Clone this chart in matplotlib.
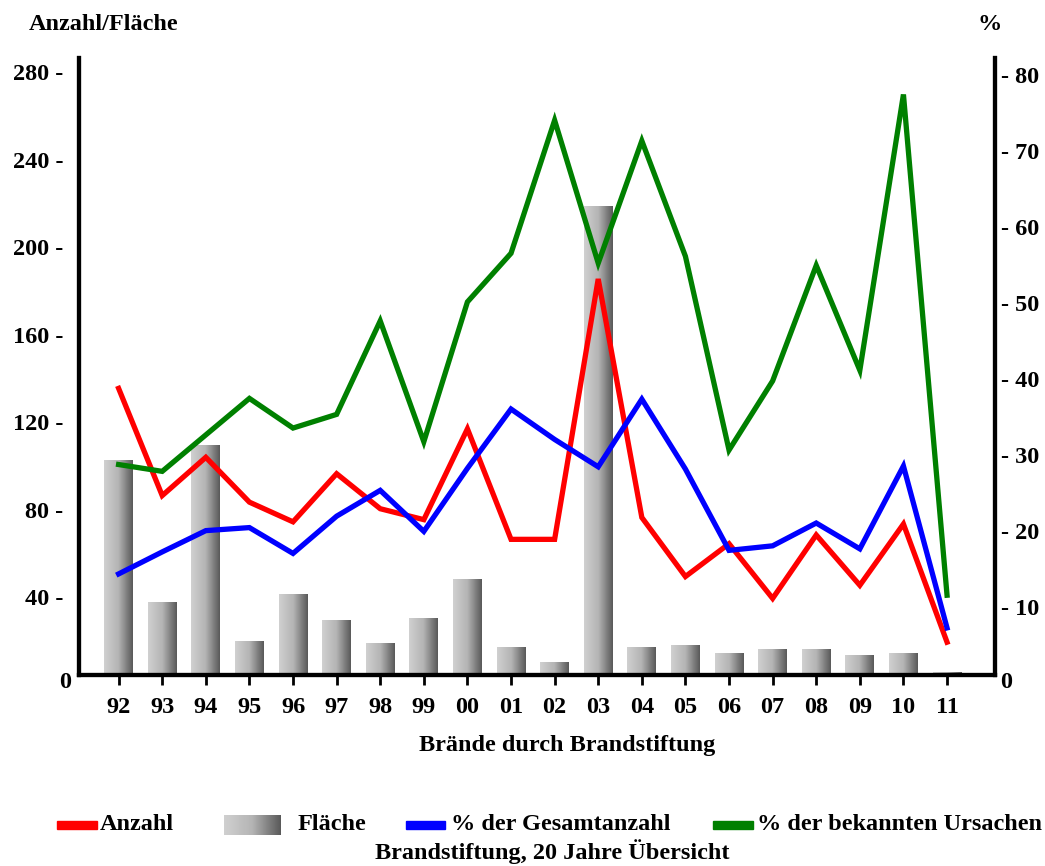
import numpy as np
import matplotlib
matplotlib.use("Agg")
import matplotlib.pyplot as plt
import matplotlib.transforms as mtransforms
from matplotlib.colors import LinearSegmentedColormap
from matplotlib.patches import Rectangle

plt.rcParams['font.family'] = ['Liberation Serif', 'DejaVu Serif']
plt.rcParams['font.weight'] = 'bold'

# data
years = ['92', '93', '94', '95', '96', '97', '98', '99', '00', '01',
         '02', '03', '04', '05', '06', '07', '08', '09', '10', '11']
flaeche = [98, 33, 105, 15.5, 37, 25, 14.5, 26, 43.5, 12.7,
           5.6, 214, 12.7, 13.6, 10, 11.7, 11.7, 9.1, 10, 1.2]
anzahl = [131, 82, 99.5, 79, 70, 92, 76, 71, 112.5, 62,
          62, 181, 72, 45, 60, 35, 64, 41, 69, 15]
pct_gesamt = [13.3, 16.2, 19.0, 19.4, 16.0, 20.9, 24.3, 18.9, 27.2, 35.0,
              31.0, 27.4, 36.3, 27.1, 16.4, 17.0, 20.0, 16.6, 27.5, 6.2]
pct_bekannt = [27.7, 26.8, 31.6, 36.4, 32.5, 34.3, 46.6, 30.7, 49.1, 55.5,
               73.0, 54.2, 70.3, 55.1, 29.6, 38.7, 53.9, 40.1, 76.4, 10.5]
left_ticks = [0, 40, 80, 120, 160, 200, 240, 280]
right_ticks = [0, 10, 20, 30, 40, 50, 60, 70, 80]

W, H = 1045, 866
FS = 17.5
fig = plt.figure(figsize=(W / 100, H / 100), dpi=100)
ax = fig.add_axes([78.5 / W, (H - 675) / H, (995 - 78.5) / W, (675 - 58) / H])
ax2 = ax.twinx()

x = np.arange(len(years))
bar_w = 0.66
gray = LinearSegmentedColormap.from_list('g', ['#d0d0d0', '#b4b4b4', '#5a5a5a'])
grad = np.linspace(0, 1, 64).reshape(1, -1)
for xi, h in zip(x, flaeche):
    ax.imshow(grad, cmap=gray, aspect='auto', interpolation='bilinear',
              extent=[xi - bar_w / 2, xi + bar_w / 2, 0, h], zorder=1)

ax.plot(x, anzahl, color='#ff0000', lw=3.8, zorder=3, solid_joinstyle='miter')
ax2.plot(x, pct_gesamt, color='#0000ff', lw=3.8, solid_joinstyle='miter')
ax2.plot(x, pct_bekannt, color='#008000', lw=3.8, solid_joinstyle='miter')

ax.set_xlim(-0.92, 20.1)
ax.set_ylim(0, 282)
ax2.set_ylim(0, 81.2)

for a in (ax, ax2):
    a.spines['top'].set_visible(False)
    for s in ('left', 'right', 'bottom'):
        a.spines[s].set_linewidth(3)

ax.set_xticks(x)
ax.set_xticklabels(years, fontsize=FS, fontweight='bold')
ax.tick_params(axis='x', direction='out', length=7, width=2, pad=9)

labs = ['0'] + [f'{v} -' for v in left_ticks[1:]]
ax.set_yticks(left_ticks)
ax.set_yticklabels(labs, fontsize=FS, fontweight='bold')
ax.tick_params(axis='y', length=0, pad=11)
labs2 = ['0'] + [f'- {v}' for v in right_ticks[1:]]
ax2.set_yticks(right_ticks)
ax2.set_yticklabels(labs2, fontsize=FS, fontweight='bold')
ax2.tick_params(axis='y', length=0, pad=4)

def shift(lab, dx, dy):
    lab.set_transform(lab.get_transform() +
                      mtransforms.ScaledTranslation(dx / 100, dy / 100,
                                                    fig.dpi_scale_trans))

for i, lab in enumerate(ax.get_yticklabels()):
    if i == 0:
        shift(lab, 8, -5)
    else:
        shift(lab, 0, -10)
for i, lab in enumerate(ax2.get_yticklabels()):
    shift(lab, 0, -5 if i == 0 else -8)

fig.text(104 / W, 1 - 25 / H, 'Anzahl/Fläche', ha='center', va='center',
         fontsize=FS, fontweight='bold')
fig.text(990 / W, 1 - 25 / H, '%', ha='center', va='center',
         fontsize=FS, fontweight='bold')
fig.text(567 / W, 1 - 746 / H, 'Brände durch Brandstiftung', ha='center',
         va='center', fontsize=FS, fontweight='bold')

# legend row
ly = 1 - 825 / H
ph = 8 / H
items = [(57, 97, '#ff0000', 100, 'Anzahl'),
         (224, 281, None, 298, 'Fläche'),
         (406, 445, '#0000ff', 451, '% der Gesamtanzahl'),
         (713, 753, '#008000', 757, '% der bekannten Ursachen')]
for x0, x1, col, tx, label in items:
    if col is None:
        lax = fig.add_axes([x0 / W, ly - 10 / H, (x1 - x0) / W, 20 / H])
        lax.imshow(grad, cmap=gray, aspect='auto', interpolation='bilinear')
        lax.axis('off')
    else:
        fig.patches.append(Rectangle((x0 / W, ly - ph / 2), (x1 - x0) / W, ph,
                                     transform=fig.transFigure, color=col))
    fig.text(tx / W, ly, label, ha='left', va='center', fontsize=FS,
             fontweight='bold')

fig.text(552 / W, 1 - 852 / H, 'Brandstiftung, 20 Jahre Übersicht', ha='center',
         va='center', fontsize=FS, fontweight='bold')

fig.savefig('out.png', dpi=100)
